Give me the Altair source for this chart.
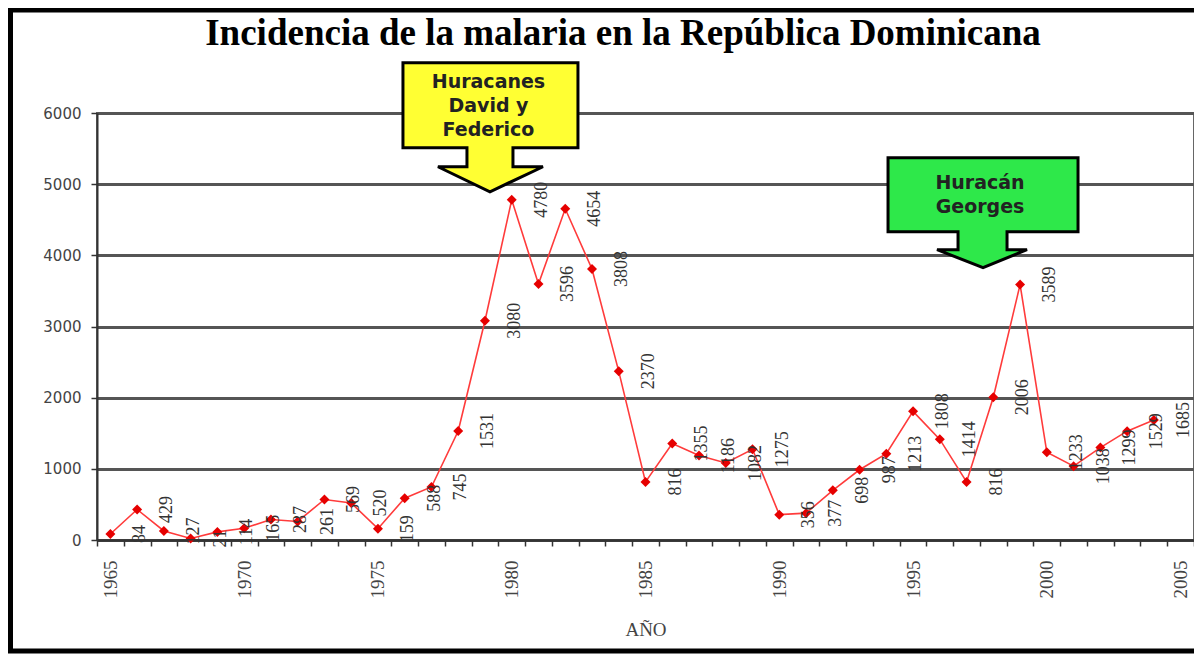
import altair as alt
import pandas as pd

title_text = "Incidencia de la malaria en la República Dominicana"
x_title = "AÑO"

years = [1965, 1966, 1967, 1968, 1969, 1970, 1971, 1972, 1973, 1974,
         1975, 1976, 1977, 1978, 1979, 1980, 1981, 1982, 1983, 1984,
         1985, 1986, 1987, 1988, 1989, 1990, 1991, 1992, 1993, 1994,
         1995, 1996, 1997, 1998, 1999, 2000, 2001, 2002, 2003, 2004]
cases = [84, 429, 127, 21, 114, 165, 287, 261, 569, 520,
         159, 588, 745, 1531, 3080, 4780, 3596, 4654, 3808, 2370,
         816, 1355, 1186, 1082, 1275, 356, 377, 698, 987, 1213,
         1808, 1414, 816, 2006, 3589, 1233, 1038, 1299, 1529, 1685]
axis_years = years + [2005]
y_ticks = [0, 1000, 2000, 3000, 4000, 5000, 6000]

ann_year = [1979, 1998]
ann_value = [5800, 4600]
ann_lines = [["Huracanes", "David y", "Federico"], ["Huracán", "Georges"]]

df = pd.DataFrame({"year": years, "cases": cases})

W, H = 1097, 427

x_enc = alt.X(
    "year:O",
    scale=alt.Scale(type="band", domain=axis_years, paddingInner=0, paddingOuter=0),
    axis=alt.Axis(
        title=x_title, labelAngle=270, labelExpr="datum.value % 5 == 0 ? datum.label : ''",
        labelFont="Liberation Serif", labelFontSize=19, labelColor="#444", labelPadding=14,
        tickBand="extent", ticks=True, tickSize=6, tickColor="#333", tickWidth=1.5,
        domainColor="#333", domainWidth=2.5, grid=False,
        titleFont="Liberation Serif", titleFontSize=19, titleFontWeight="normal",
        titleColor="#444", titlePadding=22,
    ),
)
y_enc = alt.Y(
    "cases:Q",
    scale=alt.Scale(domain=[0, 6000], nice=False),
    axis=alt.Axis(
        title=None, values=y_ticks, format="d",
        labelFont="DejaVu Sans", labelFontSize=15, labelColor="#444", labelPadding=10,
        tickSize=6, tickColor="#333", tickWidth=1.5,
        domainColor="#333", domainWidth=2,
        grid=True, gridColor="#555555", gridWidth=3,
    ),
)

base = alt.Chart(df)
line = base.mark_line(color="#FF3B3B", strokeWidth=1.6).encode(x=x_enc, y=y_enc)
pts = base.mark_point(shape="diamond", filled=True, color="#E60000", size=100, opacity=1).encode(x=x_enc, y=y_enc)
labels = base.mark_text(
    angle=270, align="center", baseline="middle", dy=30,
    font="Liberation Serif", fontSize=18, color="#333",
).encode(x=x_enc, y=y_enc, text=alt.Text("cases:Q", format="d"))

# callout shapes (unit = 100 px, relative to anchor)
path_david = ("M -0.82 -0.645 L 0.93 -0.645 L 0.93 0.205 L 0.28 0.205 L 0.28 0.395 "
              "L 0.58 0.395 L 0.05 0.645 L -0.47 0.395 L -0.18 0.395 L -0.18 0.205 "
              "L -0.82 0.205 Z")
path_georges = ("M -1.053 -0.55 L 0.847 -0.55 L 0.847 0.19 L 0.137 0.19 L 0.137 0.37 "
                "L 0.337 0.37 L -0.103 0.55 L -0.563 0.37 L -0.353 0.37 L -0.353 0.19 "
                "L -1.053 0.19 Z")

def ann_data(i):
    return pd.DataFrame({"year": [ann_year[i]], "cases": [ann_value[i]], "txt": [ann_lines[i]]})

def callout(i, path, fill, dx, dy):
    d = alt.Chart(ann_data(i))
    shape = d.mark_point(shape=path, size=40000, filled=True, fill=fill, stroke="black",
                         strokeWidth=3, opacity=1, fillOpacity=1, strokeOpacity=1).encode(x=x_enc, y=y_enc)
    txt = d.mark_text(font="DejaVu Sans", fontWeight="bold", fontSize=19, color="#222",
                      align="center", baseline="middle", lineHeight=24, dx=dx, dy=dy).encode(
        x=x_enc, y=y_enc, text="txt")
    return shape + txt

c1 = callout(0, path_david, "#FFFF33", 3.5, -45)
c2 = callout(1, path_georges, "#2EE84A", -13.3, -30)

title = alt.Chart(alt.Data(values=[{"t": title_text}])).mark_text(
    font="Liberation Serif", fontSize=37, fontWeight="bold", color="black",
    align="center", baseline="alphabetic",
).encode(x=alt.value(526), y=alt.value(-68), text="t:N")

frame = alt.Chart(alt.Data(values=[{"a": 1}])).mark_rect(
    filled=False, stroke="black", strokeWidth=5, fill=None
).encode(x=alt.value(-86.5), x2=alt.value(W + 20), y=alt.value(-103), y2=alt.value(538))

chart = alt.layer(line, pts, labels, c1, c2, title, frame).properties(
    width=W, height=H,
    padding={"left": 89, "top": 105, "right": 0, "bottom": 114},
    autosize=alt.AutoSizeParams(type="none"),
    background="white",
).configure_view(stroke="#666", strokeWidth=2)

chart.save("out.html", embed_options={"renderer": "svg", "actions": False})
